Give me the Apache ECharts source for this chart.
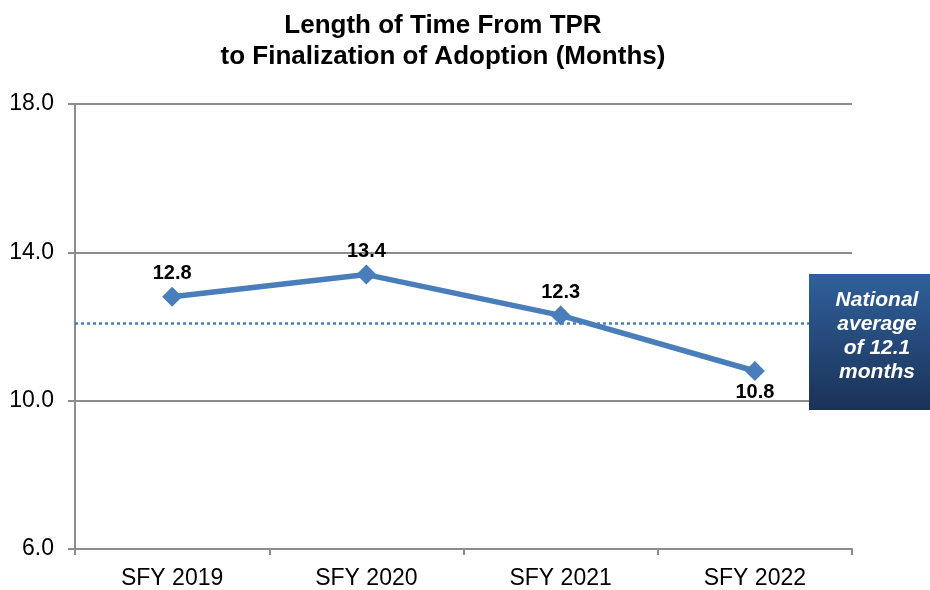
<!DOCTYPE html>
<html>
<head>
<meta charset="utf-8">
<script src="https://cdn.jsdelivr.net/npm/echarts@6/dist/echarts.min.js"></script>
<style>
  html, body { margin: 0; padding: 0; background: #ffffff; }
  #chart { width: 930px; height: 590px; }
</style>
</head>
<body>
<div id="chart"></div>
<script>
// Fiscal years on the horizontal axis
var categories = ['SFY 2019', 'SFY 2020', 'SFY 2021', 'SFY 2022'];
// Months from TPR to finalization of adoption
var months = [12.8, 13.4, 12.3, 10.8];
// Where each value label sits relative to its point
var labelSides = ['top', 'top', 'top', 'bottom'];
// National benchmark
var nationalAverage = 12.1;
// Value axis
var yMin = 6, yMax = 18, yStep = 4;

var FONT = '"Liberation Sans", Arial, Helvetica, sans-serif';
var chart = echarts.init(document.getElementById('chart'), null, { renderer: 'canvas' });

var points = months.map(function (v, i) {
  return {
    value: v,
    label: { position: labelSides[i], distance: labelSides[i] === 'top' ? 3 : 1 }
  };
});

chart.setOption({
  animation: false,
  backgroundColor: '#ffffff',
  title: {
    text: 'Length of Time From TPR\nto Finalization of Adoption (Months)',
    left: 438,
    top: 5,
    textAlign: 'center',
    textStyle: { fontFamily: FONT, fontSize: 26, fontWeight: 'bold', color: '#000000', lineHeight: 31 }
  },
  grid: { left: 75, right: 78, top: 104, bottom: 40, containLabel: false },
  xAxis: {
    type: 'category',
    data: categories,
    boundaryGap: true,
    axisLine: { show: true, lineStyle: { color: '#8c8c8c', width: 2 } },
    axisTick: { show: true, length: 6, alignWithLabel: false, lineStyle: { color: '#8c8c8c', width: 2 } },
    axisLabel: { fontFamily: FONT, fontSize: 23, color: '#000000', margin: 18 },
    splitLine: { show: false }
  },
  yAxis: {
    type: 'value',
    min: yMin,
    max: yMax,
    interval: yStep,
    axisLine: { show: true, lineStyle: { color: '#8c8c8c', width: 2 } },
    axisTick: { show: true, length: 7, lineStyle: { color: '#8c8c8c', width: 2 } },
    axisLabel: {
      fontFamily: FONT, fontSize: 23, color: '#000000', margin: 21,
      formatter: function (v) { return v.toFixed(1); }
    },
    splitLine: { show: true, lineStyle: { color: '#8c8c8c', width: 2 } }
  },
  series: [{
    type: 'line',
    data: points,
    symbol: 'diamond',
    symbolSize: 20,
    lineStyle: { color: '#4a7ebb', width: 5.5 },
    itemStyle: { color: '#4a7ebb' },
    label: {
      show: true,
      fontFamily: FONT, fontSize: 20, fontWeight: 'bold', color: '#000000',
      formatter: function (p) { return p.value.toFixed(1); }
    },
    markLine: {
      silent: true,
      symbol: ['none', 'none'],
      label: { show: false },
      lineStyle: { color: '#4a7ebb', type: [3, 3], width: 2.5 },
      data: [{ yAxis: nationalAverage }]
    },
    z: 5
  }],
  graphic: [{
    type: 'group',
    right: 0,
    top: 274,
    z: 100,
    children: [{
      type: 'rect',
      z: 100,
      shape: { x: 0, y: 0, width: 121, height: 136 },
      style: {
        fill: new echarts.graphic.LinearGradient(0, 0, 0, 1, [
          { offset: 0, color: '#30609b' },
          { offset: 1, color: '#1a3258' }
        ])
      }
    }, {
      type: 'text',
      z: 101,
      style: {
        x: 68, y: 62,
        text: 'National\naverage\nof ' + nationalAverage.toFixed(1) + '\nmonths',
        align: 'center',
        verticalAlign: 'middle',
        fill: '#ffffff',
        fontFamily: FONT,
        fontSize: 21,
        fontWeight: 'bold',
        fontStyle: 'italic',
        lineHeight: 24
      }
    }]
  }]
});
</script>
</body>
</html>
